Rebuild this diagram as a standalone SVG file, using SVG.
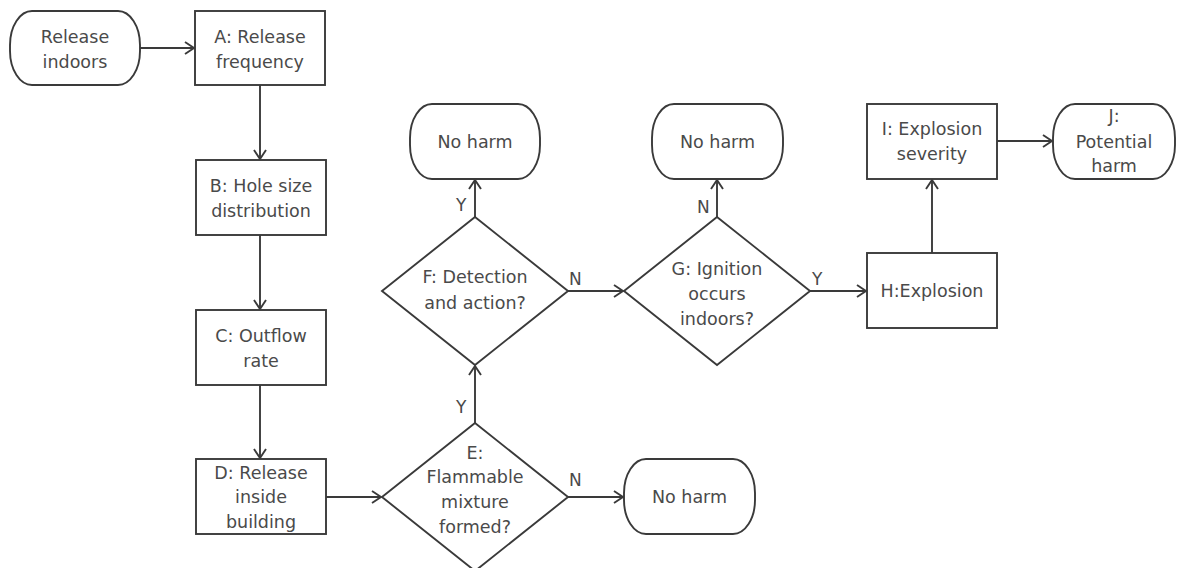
<svg xmlns="http://www.w3.org/2000/svg" width="1177" height="568" viewBox="0 0 1177 568">
<style>
.s{fill:#fff;stroke:#3a3a3a;stroke-width:1.9}
.t{font-family:"DejaVu Sans",Verdana,sans-serif;font-size:17.5px;fill:#4a4a4a;text-anchor:middle}
.l{font-family:"DejaVu Sans",Verdana,sans-serif;font-size:17px;fill:#4a4a4a}
.c{fill:none;stroke:#3a3a3a;stroke-width:1.9}
</style>
<defs>
<marker id="a" markerWidth="12" markerHeight="14" refX="10" refY="7" orient="auto" markerUnits="userSpaceOnUse">
<path d="M1,1 L10,7 L1,13" fill="none" stroke="#3a3a3a" stroke-width="1.9"/>
</marker>
</defs>
<rect width="1177" height="568" fill="#fff"/>
<g id="connectors">
<path class="c" d="M140,48 H194" marker-end="url(#a)"/>
<path class="c" d="M260,85 V159" marker-end="url(#a)"/>
<path class="c" d="M260,235 V309" marker-end="url(#a)"/>
<path class="c" d="M260,385 V458" marker-end="url(#a)"/>
<path class="c" d="M326,497 H381" marker-end="url(#a)"/>
<path class="c" d="M475,423 V366" marker-end="url(#a)"/>
<path class="c" d="M568,497 H623" marker-end="url(#a)"/>
<path class="c" d="M475,217 V180" marker-end="url(#a)"/>
<path class="c" d="M568,291 H623" marker-end="url(#a)"/>
<path class="c" d="M717,217 V180" marker-end="url(#a)"/>
<path class="c" d="M810,291 H866" marker-end="url(#a)"/>
<path class="c" d="M932,253 V180" marker-end="url(#a)"/>
<path class="c" d="M997,141 H1052" marker-end="url(#a)"/>
<text class="l" x="456" y="413">Y</text>
<text class="l" x="569" y="486">N</text>
<text class="l" x="456" y="211">Y</text>
<text class="l" x="569" y="285">N</text>
<text class="l" x="697" y="213">N</text>
<text class="l" x="812" y="285">Y</text>
</g>
<g id="release-indoors">
<rect class="s" x="10" y="11" width="130" height="74" rx="22" ry="34"/>
<text class="t" x="75" y="43">Release</text>
<text class="t" x="75" y="68">indoors</text>
</g>
<g id="A">
<rect class="s" x="195" y="11" width="130" height="74"/>
<text class="t" x="260" y="43">A: Release</text>
<text class="t" x="260" y="68">frequency</text>
</g>
<g id="B">
<rect class="s" x="196" y="160" width="130" height="75"/>
<text class="t" x="261" y="192">B: Hole size</text>
<text class="t" x="261" y="217">distribution</text>
</g>
<g id="C">
<rect class="s" x="196" y="310" width="130" height="75"/>
<text class="t" x="261" y="342">C: Outflow</text>
<text class="t" x="261" y="367">rate</text>
</g>
<g id="D">
<rect class="s" x="196" y="459" width="130" height="75"/>
<text class="t" x="261" y="479">D: Release</text>
<text class="t" x="261" y="503">inside</text>
<text class="t" x="261" y="528">building</text>
</g>
<g id="E">
<polygon class="s" points="475,423 568,497 475,571 382,497"/>
<text class="t" x="475" y="459">E:</text>
<text class="t" x="475" y="483">Flammable</text>
<text class="t" x="475" y="508">mixture</text>
<text class="t" x="475" y="533">formed?</text>
</g>
<g id="no-harm-E">
<rect class="s" x="624" y="459" width="131" height="75" rx="22" ry="34"/>
<text class="t" x="689.5" y="503">No harm</text>
</g>
<g id="F">
<polygon class="s" points="475,217 568,291 475,365 382,291"/>
<text class="t" x="475" y="283">F: Detection</text>
<text class="t" x="475" y="309">and action?</text>
</g>
<g id="no-harm-F">
<rect class="s" x="410" y="104" width="130" height="75" rx="22" ry="34"/>
<text class="t" x="475" y="148">No harm</text>
</g>
<g id="G">
<polygon class="s" points="717,217 810,291 717,365 624,291"/>
<text class="t" x="717" y="275">G: Ignition</text>
<text class="t" x="717" y="300">occurs</text>
<text class="t" x="717" y="325">indoors?</text>
</g>
<g id="no-harm-G">
<rect class="s" x="652" y="104" width="131" height="75" rx="22" ry="34"/>
<text class="t" x="717.5" y="148">No harm</text>
</g>
<g id="H">
<rect class="s" x="867" y="253" width="130" height="75"/>
<text class="t" x="932" y="297">H:Explosion</text>
</g>
<g id="I">
<rect class="s" x="867" y="104" width="130" height="75"/>
<text class="t" x="932" y="135">I: Explosion</text>
<text class="t" x="932" y="160">severity</text>
</g>
<g id="J">
<rect class="s" x="1053" y="104" width="122" height="75" rx="22" ry="34"/>
<text class="t" x="1114" y="122">J:</text>
<text class="t" x="1114" y="148">Potential</text>
<text class="t" x="1114" y="172">harm</text>
</g>
</svg>
